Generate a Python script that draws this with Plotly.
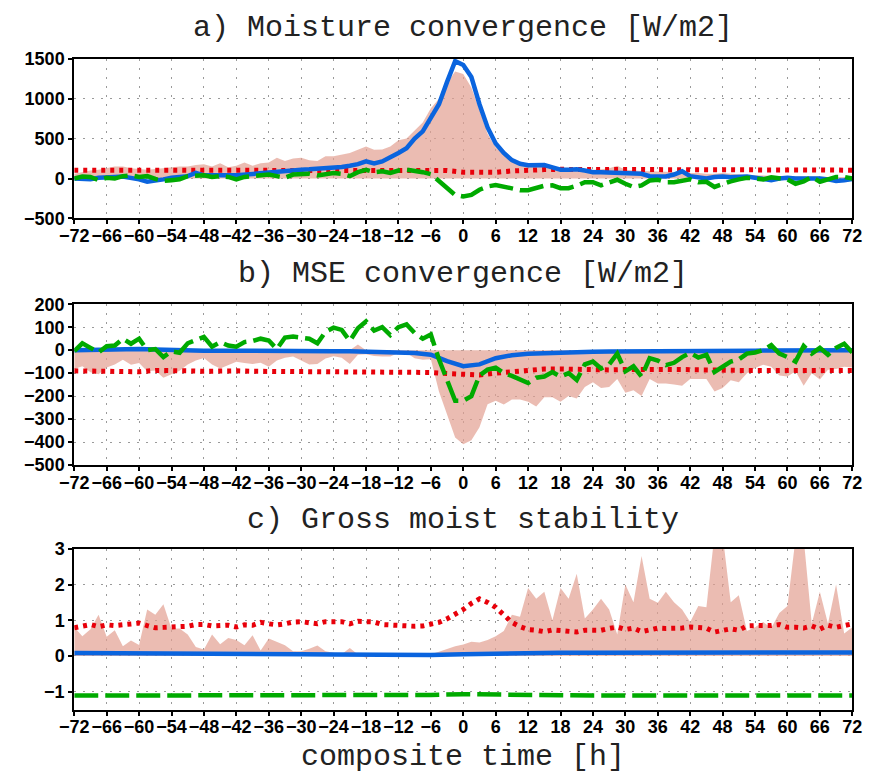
import plotly.graph_objects as go
from plotly.subplots import make_subplots

# ---------------- time axes (hours) ----------------
t15 = [-72 + 1.5 * i for i in range(97)]   # 1.5-hourly
t3 = [-72 + 3 * i for i in range(49)]      # 3-hourly
t6 = [-72 + 6 * i for i in range(25)]      # 6-hourly
xticks = list(range(-72, 73, 6))

# ---------------- a) Moisture convergence [W/m2] ----------------
shade_a = [
    60, 80, 100, 110, 130, 150, 150, 130,
    120, 110, 120, 130, 140, 150, 150, 170,
    180, 150, 190, 140, 160, 200, 160, 190,
    200, 260, 220, 250, 260, 230, 220, 280,
    280, 300, 320, 360, 400, 360, 365, 400,
    480, 500, 600, 700, 880, 1000, 1200, 1340,
    1310, 1140, 860, 560, 390, 300, 240, 200,
    180, 160, 150, 140, 130, 125, 120, 110,
    110, 115, 130, 160, 110, 100, 95, 90,
    90, 85, 80, 90, 70, 70, 60, 60,
    70, 60, 50, 45, 40, 40, 35, 30,
    30, 30, 30, 25, 25, 20, 20, 20,
    20]
blue_a = [
    0, -10, -10, 10, 20, 20, 25, 10,
    -10, -40, -30, -10, 10, 20, 30, 70,
    40, 40, 45, 40, 40, 50, 60, 60,
    70, 90, 100, 110, 110, 115, 120, 130,
    140, 145, 160, 180, 215, 190, 215, 260,
    320, 380, 500, 590, 750, 930, 1210, 1470,
    1420, 1270, 930, 640, 440, 320, 230, 185,
    168, 165, 170, 140, 110, 110, 115, 100,
    80, 80, 75, 70, 75, 65, 60, 30,
    25, 25, 50, 90, 30, 15, 0, 20,
    25, 15, 20, 25, 10, -10, -20, 0,
    10, 0, 0, 5, 0, -10, -30, -20,
    -5]
green_a = [
    0, 25, 20, -20, 10, 0, 30, 40,
    20, 30, -5, -30, -20, -10, 30, 40,
    40, 20, 30, 20, -10, 20, 30, 40,
    50, 30, 10, 50, 60, 60, 40, 50,
    70, 60, 30, 80, 110, 80, 90, 70,
    100, 110, 100, 80, 55, -30, -110, -205,
    -225, -205, -140, -100, -80, -105, -120, -145,
    -145, -120, -90, -85, -120, -120, -90, -45,
    -45, -85, -55, -15, -65, -105, -85, -25,
    -15, -45, -45, -25, -10, -45, -40, -105,
    -65, -35, -10, 10, 0, -10, 15, 0,
    -10, -65, -35, 20, -40, -10, 20, 20,
    0]
red_a = [
    105, 105, 105, 105, 104, 104, 104, 104,
    104, 104, 104, 104, 104, 104, 104, 104,
    104, 104, 102, 100, 102, 104, 104, 100,
    80, 72, 78, 95, 108, 112, 115, 115,
    112, 110, 108, 110, 118, 120, 118, 118,
    118, 116, 115, 115, 112, 110, 108, 106,
    104]

# ---------------- b) MSE convergence [W/m2] ----------------
shade_b_hi = [
    0, 0, 0, 0, 0, 0, 0, 0,
    0, 0, 0, 0, 0, 0, 0, 0,
    0, 0, 0, 0, 0, 0, 0, 0,
    0, 0, 0, 0, 0, 0, 0, 0,
    0, 0, 0, 25, 0, 0, 0, 0,
    0, 0, 0, 0, 0, 0, 0, 0,
    0, 0, 0, 0, 0, 0, 0, 0,
    0, 0, 0, 0, 0, 0, 0, 0,
    0, 0, 0, 0, 0, 0, 0, 0,
    0, 0, 0, 0, 0, 0, 0, 0,
    0, 0, 0, 0, 0, 0, 0, 0,
    0, 0, 0, 0, 0, 0, 0, 0,
    0]
shade_b_lo = [
    -82, -70, -96, -105, -76, -62, -42, -64,
    -56, -92, -88, -120, -105, -90, -62, -45,
    -34, -62, -80, -66, -50, -56, -60, -55,
    -72, -45, -33, -28, -46, -62, -60, -36,
    -26, -33, -60, -20, -18, -25, -28, -28,
    -12, -12, -35, -42, -40, -180, -280, -380,
    -410, -392, -336, -236, -220, -237, -215, -215,
    -225, -245, -205, -205, -225, -200, -210, -160,
    -140, -165, -160, -125, -185, -175, -200, -125,
    -145, -145, -150, -155, -125, -124, -125, -180,
    -165, -131, -140, -100, -78, -64, -72, -110,
    -115, -92, -155, -100, -128, -85, -82, -72,
    -75]
blue_b = [
    0, 2, 3, 4, 5, 3, 0, -1,
    -2, -2, -3, -3, -3, -3, -4, -4,
    -5, -5, -6, -7, -10, -12, -20, -48,
    -70, -62, -35, -22, -16, -13, -10, -8,
    -7, -6, -6, -5, -4, -4, -3, -2,
    -3, -2, -2, -1, -1, -1, -1, 0,
    0]
green_b = [
    -4, 30, 10, -10, 17, 20, 50, 28,
    50, 0, 5, -30, -5, -11, 30, 45,
    58, 15, 35, 20, 15, 35, 40, 50,
    42, 5, 55, 59, 56, 50, 30, 80,
    98, 88, 40, 95, 125, 85, 100, 66,
    100, 112, 75, 50, 68, -40, -130, -220,
    -220, -200, -110, -85, -76, -100, -112, -128,
    -143, -120, -115, -95, -115, -100, -130, -62,
    -50, -80, -62, -15, -92, -70, -115, -35,
    -45, -65, -55, -30, -12, -32, -20, -95,
    -72, -50, -40, -15, -10, 0, 22, -15,
    -30, -50, 18, -15, 10, -20, 10, 28,
    -10]
red_b = [
    -90, -90, -92, -92, -94, -88, -87, -90,
    -92, -90, -90, -92, -92, -94, -96, -95,
    -96, -96, -95, -93, -92, -93, -97, -102,
    -106, -108, -100, -93, -86, -82, -82, -85,
    -88, -86, -84, -82, -84, -84, -86, -88,
    -86, -88, -88, -88, -88, -86, -88, -90,
    -88]

# ---------------- c) Gross moist stability ----------------
shade_c = [
    0.81, 0.55, 0.75, 1.15, 0.54, 0.72, 0.27, 0.43,
    0.31, 1.3, 1.15, 1.45, 0.76, 0.77, 0.6, 0.25,
    0.18, 0.6, 0.33, 0.5, 0.45, 0.3, 0.58, 0.15,
    0.49, 0.4, 0.3, 0.13, 0.13, 0.2, 0.29, 0.13,
    0.08, 0.05, 0.22, 0.04, -0.05, 0.03, 0.04, 0.04,
    0.04, 0.04, 0.04, 0.04, 0.05, 0.12, 0.2, 0.27,
    0.32, 0.4, 0.38, 0.45, 0.55, 0.7, 1.15, 1.1,
    1.9, 1.6, 1.8, 1.0, 1.9, 1.6, 2.3, 1.05,
    1.3, 1.6, 1.3, 0.6, 2.0, 1.5, 2.8, 1.6,
    1.49, 1.8, 1.5, 1.3, 0.95, 1.4, 1.36, 3.4,
    3.4, 1.5, 1.7, 0.7, 0.8, 0.95, 0.78, 1.2,
    1.4, 3.3, 3.3, 0.9, 1.8, 0.9, 2.0, 0.63,
    0.8]
red_c = [
    0.79, 0.85, 0.88, 0.82, 0.87, 0.85, 0.88, 0.88,
    0.92, 0.85, 0.79, 0.8, 0.8, 0.82, 0.83, 0.88,
    0.88, 0.84, 0.85, 0.86, 0.81, 0.87, 0.86, 0.94,
    0.9, 0.87, 0.9, 0.95, 0.96, 0.92, 0.9, 0.96,
    0.95, 0.96, 0.9, 0.97, 0.96, 0.95, 0.88, 0.87,
    0.83, 0.83, 0.83, 0.84, 0.9, 0.94, 1.04, 1.16,
    1.3, 1.47, 1.6, 1.5, 1.36, 1.15, 0.94, 0.82,
    0.74, 0.72, 0.68, 0.73, 0.7, 0.7, 0.67, 0.72,
    0.72, 0.72, 0.77, 0.81, 0.74, 0.78, 0.68, 0.74,
    0.78, 0.77, 0.76, 0.78, 0.81, 0.81, 0.78, 0.67,
    0.73, 0.76, 0.72, 0.84, 0.85, 0.84, 0.85, 0.88,
    0.8, 0.8, 0.78, 0.84, 0.75, 0.86, 0.8, 0.85,
    0.9]
blue_c = [0.08, 0.08, 0.07, 0.07, 0.06, 0.06, 0.05, 0.05, 0.04, 0.03, 0.03, 0.03,
          0.05, 0.07, 0.08, 0.09, 0.09, 0.09, 0.09, 0.09, 0.1, 0.1, 0.1, 0.1, 0.1]
green_c = [-1.11, -1.11, -1.11, -1.11, -1.11, -1.11, -1.1, -1.1, -1.1, -1.1, -1.1, -1.09,
           -1.07, -1.09, -1.1, -1.1, -1.11, -1.11, -1.11, -1.11, -1.11, -1.11, -1.11, -1.11, -1.11]

titles = ["a) Moisture convergence [W/m2]", "b) MSE convergence [W/m2]", "c) Gross moist stability"]
xlabel = "composite time [h]"

# ---------------- styles ----------------
SHADE = "rgba(226,160,146,0.7)"
BLUE = "rgb(10,100,222)"
GREEN = "rgb(0,170,0)"
RED = "rgb(232,0,10)"
LW = 4.5

fig = make_subplots(rows=3, cols=1)


def lines(row, shade_traces, red, red_t, blue, blue_t, green, green_t):
    for tr in shade_traces:
        fig.add_trace(tr, row=row, col=1)
    fig.add_trace(go.Scatter(x=red_t, y=red, mode="lines",
                             line=dict(color=RED, width=5, dash="4px,5px")), row=row, col=1)
    fig.add_trace(go.Scatter(x=blue_t, y=blue, mode="lines",
                             line=dict(color=BLUE, width=LW)), row=row, col=1)
    fig.add_trace(go.Scatter(x=green_t, y=green, mode="lines",
                             line=dict(color=GREEN, width=LW, dash="24px,7px")), row=row, col=1)


nol = dict(width=0, color="rgba(0,0,0,0)")
# panel a
lines(1, [go.Scatter(x=t15, y=shade_a, mode="lines", fill="tozeroy",
                     fillcolor=SHADE, line=nol)],
      red_a, t3, blue_a, t15, green_a, t15)
# panel b
lines(2, [go.Scatter(x=t15, y=shade_b_hi, mode="lines", line=nol),
          go.Scatter(x=t15, y=shade_b_lo, mode="lines", fill="tonexty",
                     fillcolor=SHADE, line=nol)],
      red_b, t3, blue_b, t3, green_b, t15)
# panel c
lines(3, [go.Scatter(x=t15, y=shade_c, mode="lines", fill="tozeroy",
                     fillcolor=SHADE, line=nol)],
      red_c, t15, blue_c, t6, green_c, t6)

W, H = 872, 778
x0, x1 = 61, 862
boxes = [(50, 214), (302, 467), (553, 718)]
yranges = [[-500, 1500], [-500, 200], [-1.5, 3]]
yticks = [[-500, 0, 500, 1000, 1500], list(range(-500, 201, 100)), [-1, 0, 1, 2, 3]]

tickfont = dict(family="Liberation Sans, Arial, sans-serif", size=18, color="black", weight="bold")
common = dict(showline=True, linewidth=2, linecolor="black", mirror=True,
              ticks="outside", ticklen=4, tickwidth=2, tickcolor="black",
              showgrid=True, gridcolor="#9a9a9a", gridwidth=1.3, griddash="2px,7px",
              zeroline=False, tickfont=tickfont, layer="above traces",
              ticklabeloverflow="allow")

for i, (top, bot) in enumerate(boxes):
    xa = "xaxis" if i == 0 else f"xaxis{i+1}"
    ya = "yaxis" if i == 0 else f"yaxis{i+1}"
    fig.update_layout({
        xa: dict(domain=[x0 / W, x1 / W], range=[-72, 72], tickvals=xticks,
                 tickangle=0, ticklabelstandoff=-4, **common),
        ya: dict(domain=[1 - bot / H, 1 - top / H], range=yranges[i], tickvals=yticks[i], **common),
    })

title_font = dict(family="Liberation Mono, DejaVu Sans Mono, monospace", size=30, color="#222")
title_y = [18, 271, 523]
anns = []
for txt, ty in zip(titles, title_y):
    anns.append(dict(text=txt, x=(x0 + x1) / 2 / W, y=1 - ty / H, xref="paper", yref="paper",
                     xanchor="center", yanchor="middle", showarrow=False, font=title_font))
anns.append(dict(text=xlabel, x=(x0 + x1) / 2 / W, y=1 - 767 / H, xref="paper", yref="paper",
                 xanchor="center", yanchor="middle", showarrow=False, font=title_font))

fig.update_layout(width=W, height=H, margin=dict(l=0, r=0, t=0, b=0),
                  paper_bgcolor="white", plot_bgcolor="white", showlegend=False,
                  annotations=anns)

fig.write_html("out.html")
